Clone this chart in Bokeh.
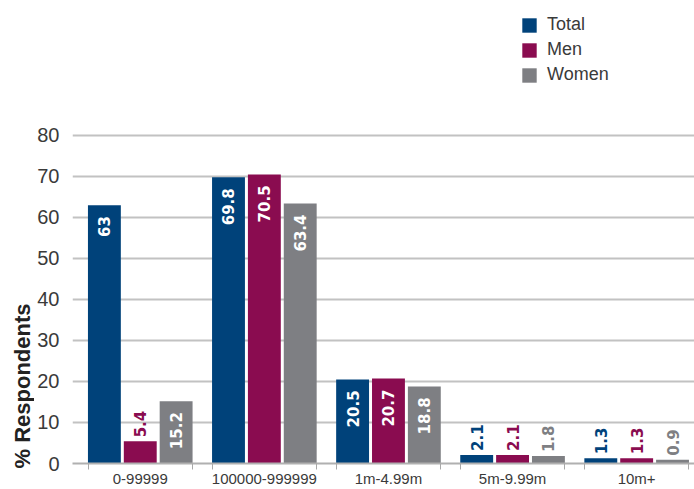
import math
from bokeh.plotting import figure
from bokeh.layouts import row, column
from bokeh.models import (ColumnDataSource, Range1d, FixedTicker, Legend, LegendItem, Label)
from bokeh.core.properties import value
from bokeh.embed import file_html
from bokeh.resources import INLINE

categories = ["0-99999", "100000-999999", "1m-4.99m", "5m-9.99m", "10m+"]
series_names = ["Total", "Men", "Women"]
total = [63, 69.8, 20.5, 2.1, 1.3]
men = [5.4, 70.5, 20.7, 2.1, 1.3]
women = [15.2, 63.4, 18.8, 1.8, 0.9]
colors = ["#00427A", "#8A0C50", "#7E7F83"]
y_ticks = [0, 10, 20, 30, 40, 50, 60, 70, 80]
y_title = "% Respondents"

FONT = "Liberation Sans"
VFONT = "DejaVu Sans"
TEXT = "#3a3a3a"
LEFT_W = 34

p = figure(width=694 - LEFT_W, height=489, output_backend="svg", toolbar_location=None,
           x_range=Range1d(-0.546, 4.466), y_range=Range1d(0, 112.9),
           min_border_left=70 - LEFT_W, min_border_right=0, min_border_top=0,
           min_border_bottom=26)
p.outline_line_color = None
p.background_fill_color = "white"
p.border_fill_color = "white"

offsets = [-0.289, 0.0, 0.289]
bar_w = 0.265
half_group = 0.418
legend_items = []
for name, vals, col, off in zip(series_names, [total, men, women], colors, offsets):
    xs = [i + off for i in range(len(categories))]
    src = ColumnDataSource(dict(x=xs, top=vals, label=[str(v) for v in vals]))
    r = p.vbar(x="x", top="top", width=bar_w, source=src, fill_color=col, line_color=None)
    legend_items.append(LegendItem(label=name, renderers=[r]))
    ins = [k for k, v in enumerate(vals) if v >= 10]
    outs = [k for k, v in enumerate(vals) if v < 10]
    if ins:
        s_in = ColumnDataSource(dict(x=[xs[k] for k in ins], y=[vals[k] for k in ins],
                                     t=[str(vals[k]) for k in ins]))
        p.text(x="x", y="y", text="t", source=s_in, angle=math.pi / 2,
               text_align="right", text_baseline="middle", y_offset=11,
               text_color="white", text_font=value(VFONT), text_font_style="bold",
               text_font_size="15px")
    if outs:
        s_out = ColumnDataSource(dict(x=[xs[k] for k in outs], y=[vals[k] for k in outs],
                                      t=[str(vals[k]) for k in outs]))
        p.text(x="x", y="y", text="t", source=s_out, angle=math.pi / 2,
               text_align="left", text_baseline="middle", y_offset=-4,
               text_color=col, text_font=value(VFONT), text_font_style="bold",
               text_font_size="15px")

# axes
centers = list(range(len(categories)))
edges = []
for c in centers:
    edges += [c - half_group, c + half_group]
p.xaxis.ticker = FixedTicker(ticks=centers, minor_ticks=edges)
p.xaxis.major_label_overrides = {i: c for i, c in enumerate(categories)}
p.xaxis.major_tick_line_color = None
p.xaxis.major_tick_out = 0
p.xaxis.major_tick_in = 0
p.xaxis.minor_tick_line_color = "#a8a8a8"
p.xaxis.minor_tick_out = 6
p.xaxis.minor_tick_in = 0
p.xaxis.axis_line_color = "#b0b0b0"
p.xaxis.axis_line_width = 2
p.xaxis.major_label_text_font = FONT
p.xaxis.major_label_text_font_size = "15px"
p.xaxis.major_label_text_color = TEXT
p.xaxis.major_label_standoff = 0
p.xgrid.grid_line_color = None

p.yaxis.ticker = FixedTicker(ticks=y_ticks)
p.yaxis.axis_line_color = None
p.yaxis.major_tick_line_color = None
p.yaxis.minor_tick_line_color = None
p.yaxis.major_tick_out = 0
p.yaxis.major_tick_in = 0
p.yaxis.minor_tick_out = 0
p.yaxis.minor_tick_in = 0
p.yaxis.major_label_text_font = FONT
p.yaxis.major_label_text_font_size = "20px"
p.yaxis.major_label_text_color = TEXT
p.yaxis.major_label_standoff = 13
p.ygrid.grid_line_color = "#c2c2c2"
p.ygrid.grid_line_width = 2

legend = Legend(items=legend_items, location=(448, 378), orientation="vertical",
                glyph_width=18, glyph_height=18, label_height=18, spacing=4,
                label_standoff=9, padding=0, margin=0, border_line_color=None,
                background_fill_alpha=0, label_text_font=FONT,
                label_text_font_size="18px", label_text_color=TEXT)
p.add_layout(legend)

# left strip holding the y-axis title
q = figure(width=LEFT_W, height=489, output_backend="svg", toolbar_location=None,
           x_range=Range1d(0, LEFT_W), y_range=Range1d(0, 489),
           min_border=0, x_axis_type=None, y_axis_type=None)
q.outline_line_color = None
q.grid.visible = False
q.add_layout(Label(x=22, y=21, text=y_title, angle=math.pi / 2,
                   text_align="left", text_baseline="middle", text_font=FONT,
                   text_font_style="bold", text_font_size="22px", text_color="#222222"))

layout = row(column(q), p, spacing=0)
open("out.html", "w").write(file_html(layout, INLINE))
